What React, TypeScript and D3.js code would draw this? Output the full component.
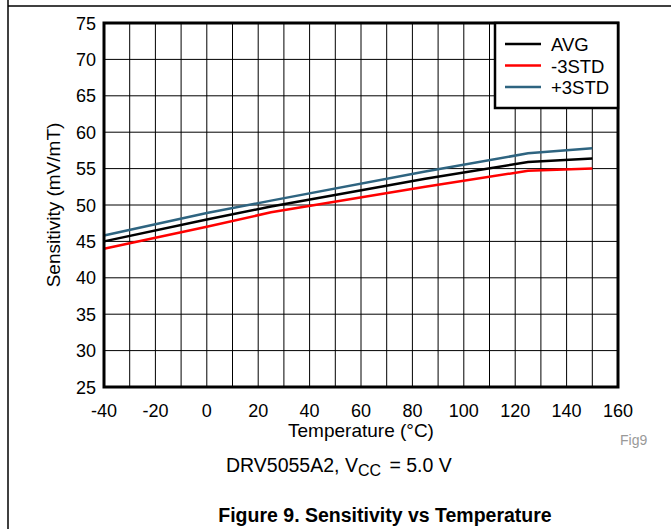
import React from "react";
import * as d3 from "d3";

const temps = [-40, 0, 25, 85, 125, 150];
const avg = [45.0, 48.0, 49.8, 53.6, 55.9, 56.4];
const minus3 = [44.0, 47.0, 49.0, 52.5, 54.7, 55.0];
const plus3 = [45.8, 48.9, 50.6, 54.6, 57.1, 57.8];
const seriesNames = ["AVG", "-3STD", "+3STD"];
const seriesColors = ["#000000", "#ff0000", "#2e6480"];
const xTicks = [-40, -20, 0, 20, 40, 60, 80, 100, 120, 140, 160];
const yTicks = [25, 30, 35, 40, 45, 50, 55, 60, 65, 70, 75];
const xGrid = d3.range(-40, 161, 10);

export default function App() {
  const left = 104, right = 618, top = 23, bottom = 387;
  const x = d3.scaleLinear().domain([-40, 160]).range([left, right]);
  const y = d3.scaleLinear().domain([25, 75]).range([bottom, top]);
  const line = d3
    .line<[number, number]>()
    .x((d) => x(d[0]))
    .y((d) => y(d[1]));
  const allSeries = [avg, minus3, plus3];
  const font = "'Liberation Sans', Arial, sans-serif";
  return (
    <svg
      width={671}
      height={529}
      style={{ position: "absolute", left: 0, top: 0, background: "#fff" }}
      fontFamily={font}
    >
      <rect x={0} y={0} width={671} height={529} fill="#fff" />
      {/* page frame */}
      <line x1={8} x2={671} y1={6} y2={6} stroke="#000" strokeWidth={1.5} />
      <line x1={8} x2={8} y1={0} y2={529} stroke="#000" strokeWidth={1.5} />
      {/* grid */}
      {xGrid.map((t) => (
        <line key={"gx" + t} x1={x(t)} x2={x(t)} y1={top} y2={bottom} stroke="#000" strokeWidth={1} />
      ))}
      {yTicks.map((t) => (
        <line key={"gy" + t} x1={left} x2={right} y1={y(t)} y2={y(t)} stroke="#000" strokeWidth={1} />
      ))}
      {/* series */}
      {allSeries.map((s, i) => (
        <path
          key={"s" + i}
          d={line(temps.map((t, j) => [t, s[j]] as [number, number])) || ""}
          fill="none"
          stroke={seriesColors[i]}
          strokeWidth={2.5}
        />
      ))}
      {/* plot border */}
      <rect x={left} y={top} width={right - left} height={bottom - top} fill="none" stroke="#000" strokeWidth={3} />
      {/* legend */}
      <rect x={495} y={top} width={right - 495} height={85} fill="#fff" stroke="#000" strokeWidth={2.5} />
      {seriesNames.map((n, i) => (
        <g key={"l" + i}>
          <line x1={505} x2={541} y1={44 + i * 21.5} y2={44 + i * 21.5} stroke={seriesColors[i]} strokeWidth={2.5} />
          <text x={551} y={44 + i * 21.5 + 7} fontSize={18.5} fill="#000">
            {n}
          </text>
        </g>
      ))}
      {/* y ticks */}
      {yTicks.map((t) => (
        <text key={"yt" + t} x={96} y={y(t) + 6.5} fontSize={18} textAnchor="end" fill="#000">
          {t}
        </text>
      ))}
      {/* x ticks */}
      {xTicks.map((t) => (
        <text key={"xt" + t} x={x(t)} y={417} fontSize={18} textAnchor="middle" fill="#000">
          {t}
        </text>
      ))}
      <text x={(left + right) / 2} y={437} fontSize={19} textAnchor="middle" fill="#000">
        Temperature (°C)
      </text>
      <text
        transform={`translate(60,${(top + bottom) / 2}) rotate(-90)`}
        fontSize={19}
        textAnchor="middle"
        fill="#000"
      >
        Sensitivity (mV/mT)
      </text>
      <text x={620} y={445} fontSize={14} fill="#999">
        Fig9
      </text>
      <text x={226} y={472} fontSize={19.5} textAnchor="start" fill="#000">
        DRV5055A2, V
        <tspan fontSize={16} dy={4}>CC</tspan>
        <tspan dy={-4} dx={3}> = 5.0 V</tspan>
      </text>
      <text x={385} y={522} fontSize={19.5} fontWeight="bold" textAnchor="middle" fill="#000">
        Figure 9. Sensitivity vs Temperature
      </text>
    </svg>
  );
}
